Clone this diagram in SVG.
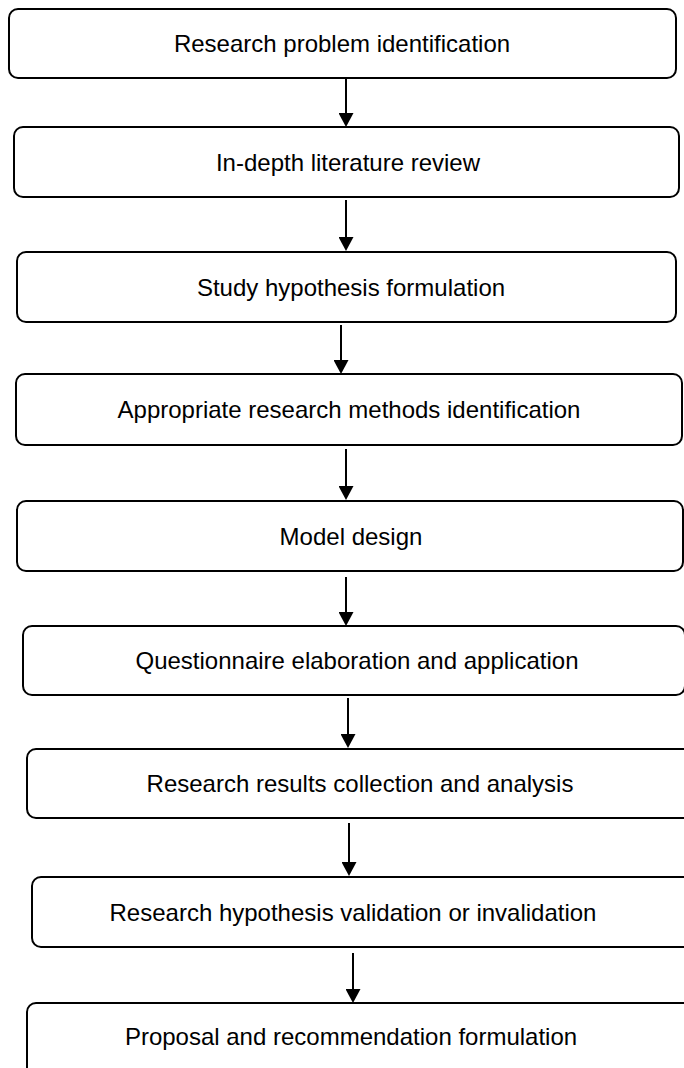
<svg xmlns="http://www.w3.org/2000/svg" width="684" height="1068" viewBox="0 0 684 1068">
<style>
.box{fill:#fff;stroke:#000;stroke-width:2}
.lbl{font-family:"Liberation Sans",Arial,sans-serif;font-size:24px;fill:#000;text-anchor:middle}
.conn line{stroke:#000;stroke-width:2}
</style>
<defs>
<marker id="ah" markerUnits="userSpaceOnUse" markerWidth="14" markerHeight="15" viewBox="0 0 14 15" refX="2" refY="7.5" orient="auto">
<path d="M0,0 L14,7.5 L0,15 z" fill="#000"/>
</marker>
</defs>
<rect width="684" height="1068" fill="#fff"/>
<g id="n1"><rect class="box" x="9" y="9" width="667" height="69" rx="9"/><text class="lbl" x="342" y="52">Research problem identification</text></g>
<g id="n2"><rect class="box" x="14" y="127" width="665" height="70" rx="9"/><text class="lbl" x="348" y="170.5">In-depth literature review</text></g>
<g id="n3"><rect class="box" x="17" y="252" width="659" height="70" rx="9"/><text class="lbl" x="351" y="295.5">Study hypothesis formulation</text></g>
<g id="n4"><rect class="box" x="16" y="374" width="666" height="71" rx="9"/><text class="lbl" x="349" y="418">Appropriate research methods identification</text></g>
<g id="n5"><rect class="box" x="17" y="501" width="666" height="70" rx="9"/><text class="lbl" x="351" y="544.5">Model design</text></g>
<g id="n6"><rect class="box" x="23" y="626" width="662" height="69" rx="9"/><text class="lbl" x="357" y="669">Questionnaire elaboration and application</text></g>
<g id="n7"><rect class="box" x="27" y="749" width="668" height="69" rx="9"/><text class="lbl" x="360" y="792">Research results collection and analysis</text></g>
<g id="n8"><rect class="box" x="32" y="877" width="664" height="70" rx="9"/><text class="lbl" x="353" y="920.5">Research hypothesis validation or invalidation</text></g>
<g id="n9"><rect class="box" x="27" y="1003" width="668" height="76" rx="9"/><text class="lbl" x="351" y="1045">Proposal and recommendation formulation</text></g>
<g id="connectors" class="conn">
<line x1="346" y1="79" x2="346" y2="115" marker-end="url(#ah)"/>
<line x1="346" y1="200" x2="346" y2="239" marker-end="url(#ah)"/>
<line x1="341" y1="325" x2="341" y2="362" marker-end="url(#ah)"/>
<line x1="346" y1="449" x2="346" y2="488" marker-end="url(#ah)"/>
<line x1="346" y1="577" x2="346" y2="614" marker-end="url(#ah)"/>
<line x1="348" y1="698" x2="348" y2="736" marker-end="url(#ah)"/>
<line x1="349" y1="823" x2="349" y2="864" marker-end="url(#ah)"/>
<line x1="353" y1="953" x2="353" y2="991" marker-end="url(#ah)"/>
</g>
</svg>
